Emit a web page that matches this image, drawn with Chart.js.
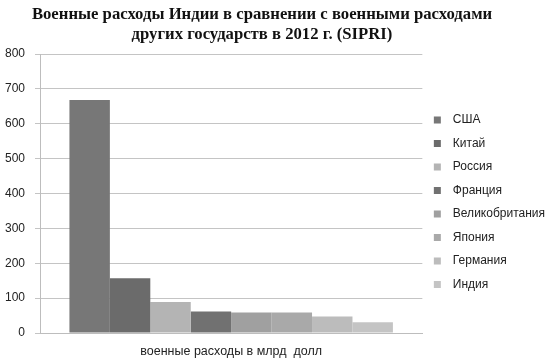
<!DOCTYPE html>
<html>
<head>
<meta charset="utf-8">
<script src="https://cdn.jsdelivr.net/npm/chart.js@4"></script>
<style>
    html, body { margin: 0; padding: 0; background: #fff; }
    #wrap { width: 550px; height: 359px; }
</style>
</head>
<body>
<div id="wrap"><canvas id="chart"></canvas></div>
<script>
// Chart data (SIPRI 2012)
const titleLines = [
    'Военные расходы Индии в сравнении с военными расходами',
    'других государств в 2012 г. (SIPRI)'
];
const categories = ['военные расходы в млрд  долл'];
const countries = ['США', 'Китай', 'Россия', 'Франция', 'Великобритания', 'Япония', 'Германия', 'Индия'];
const spending = [668, 157, 89, 62, 59, 59, 47, 31];
const barColors = ['#777777', '#6b6b6b', '#b4b4b4', '#717171', '#a0a0a0', '#a9a9a9', '#bcbcbc', '#c4c4c4'];
const yMin = 0;
const yMax = 800;
const yStep = 100;

// The scanned title sits a bit left of the canvas centre, so draw it ourselves
const scanTitle = {
    id: 'scanTitle',
    afterDraw(chart, args, opts) {
        const c = chart.ctx;
        c.save();
        c.font = opts.font;
        c.fillStyle = opts.color;
        c.textAlign = 'center';
        c.textBaseline = 'alphabetic';
        opts.lines.forEach((line, i) => c.fillText(line, opts.x, opts.y + i * opts.lineGap));
        c.restore();
    }
};

document.addEventListener('DOMContentLoaded', () => {
    const ctx = document.getElementById('chart').getContext('2d');

    const datasets = countries.map((name, i) => ({
        label: name,
        data: [spending[i]],
        backgroundColor: barColors[i],
        borderWidth: 0,
        barPercentage: 1,
        categoryPercentage: 0.846
    }));

    const defaultLabels = Chart.defaults.plugins.legend.labels.generateLabels;

    new Chart(ctx, {
        type: 'bar',
        data: { labels: categories, datasets: datasets },
        plugins: [scanTitle],
        options: {
            responsive: true,
            maintainAspectRatio: false,
            animation: false,
            layout: { padding: { left: 0, right: -5, top: 54, bottom: 0 } },
            plugins: {
                scanTitle: {
                    lines: titleLines,
                    x: 262,
                    y: 19,
                    lineGap: 19.5,
                    color: '#111',
                    font: 'bold 16.7px "Liberation Serif", serif'
                },
                legend: {
                    position: 'right',
                    align: 'start',
                    // blank title only pushes the list down to where the scan has it
                    title: {
                        display: true,
                        text: ' ',
                        font: { size: 12, lineHeight: 1 },
                        padding: { top: 36.5, bottom: 0 }
                    },
                    labels: {
                        color: '#222',
                        font: { family: '"Liberation Sans", Arial, sans-serif', size: 12 },
                        boxWidth: 7,
                        boxHeight: 7,
                        padding: 11.5,
                        // a little extra room between the swatch and the name
                        generateLabels: chart => defaultLabels(chart).map(item => ({ ...item, text: '\u2002' + item.text }))
                    }
                },
                tooltip: { enabled: false }
            },
            scales: {
                y: {
                    min: yMin,
                    max: yMax,
                    afterFit: scale => { scale.width = 40; },
                    ticks: {
                        stepSize: yStep,
                        color: '#222',
                        padding: 10,
                        font: { family: '"Liberation Sans", Arial, sans-serif', size: 12 }
                    },
                    grid: { color: '#c4c4c4', tickLength: 5 },
                    border: { color: '#bdbdbd' }
                },
                x: {
                    afterFit: scale => { scale.height = 26; },
                    ticks: {
                        color: '#222',
                        padding: 11,
                        font: { family: '"Liberation Sans", Arial, sans-serif', size: 12.5 }
                    },
                    grid: { display: false, drawTicks: false },
                    border: { color: '#bdbdbd' }
                }
            }
        }
    });
});
</script>
</body>
</html>
